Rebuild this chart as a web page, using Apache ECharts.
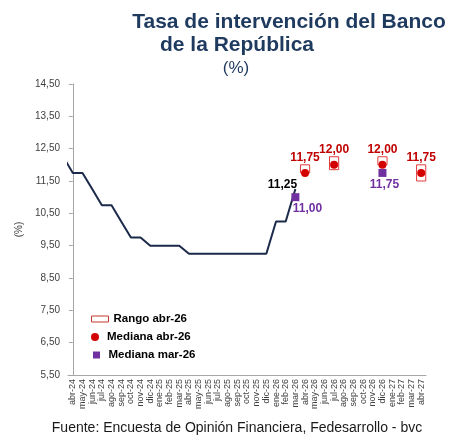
<!DOCTYPE html>
<html>
<head>
<meta charset="utf-8">
<script src="https://cdn.jsdelivr.net/npm/echarts@6/dist/echarts.min.js"></script>
<style>
  html, body { margin: 0; padding: 0; background: #fff; }
  #chart { width: 468px; height: 441px; }
</style>
</head>
<body>
<div id="chart"></div>
<script>
// meses del eje
const months = ['abr-24','may-24','jun-24','jul-24','ago-24','sep-24','oct-24','nov-24','dic-24',
  'ene-25','feb-25','mar-25','abr-25','may-25','jun-25','jul-25','ago-25','sep-25','oct-25','nov-25','dic-25',
  'ene-26','feb-26','mar-26','abr-26','may-26','jun-26','jul-26','ago-26','sep-26','oct-26','nov-26','dic-26',
  'ene-27','feb-27','mar-27','abr-27'];

// tasa observada, el primer valor es mar-24 (queda fuera del eje, se recorta)
const rateStart = -1;
const rateValues = [12.25, 11.75, 11.75, 11.25, 10.75, 10.75, 10.25, 9.75, 9.75, 9.50, 9.50, 9.50, 9.50,
  9.25, 9.25, 9.25, 9.25, 9.25, 9.25, 9.25, 9.25, 9.25, 10.25, 10.25, 11.25];

// encuesta abr-26
const rangeMonths = ['abr-26', 'jul-26', 'dic-26', 'abr-27'];
const rangeLow = [11.75, 11.85, 12.00, 11.50];
const rangeHigh = [12.00, 12.25, 12.25, 12.00];
const medianAbr = [11.75, 12.00, 12.00, 11.75];

// encuesta mar-26
const medianMarMonths = ['mar-26', 'dic-26'];
const medianMar = [11.00, 11.75];

const yTicks = { min: 5.5, max: 14.5, step: 1 };

const FONT = '"Liberation Sans", Arial, sans-serif';
const fmt = v => v.toFixed(2).replace('.', ',');

const chart = echarts.init(document.getElementById('chart'));

const lastRate = rateValues.length - 1;

const option = {
  backgroundColor: '#fff',
  animation: false,
  textStyle: { fontFamily: FONT },
  graphic: [
    { type: 'text', style: { x: 289, y: 22, text: 'Tasa de intervención del Banco', font: 'bold 21px ' + FONT, fill: '#1f3a5f', textAlign: 'center', textVerticalAlign: 'middle', align: 'center', verticalAlign: 'middle' } },
    { type: 'text', style: { x: 237, y: 45, text: 'de la República', font: 'bold 21px ' + FONT, fill: '#1f3a5f', textAlign: 'center', textVerticalAlign: 'middle', align: 'center', verticalAlign: 'middle' } },
    { type: 'text', style: { x: 236, y: 68, text: '(%)', font: '17px ' + FONT, fill: '#1f3a5f', textAlign: 'center', textVerticalAlign: 'middle', align: 'center', verticalAlign: 'middle' } },
    { type: 'text', style: { x: 237, y: 428, text: 'Fuente: Encuesta de Opinión Financiera, Fedesarrollo - bvc', font: '14px ' + FONT, fill: '#1a1a1a', textAlign: 'center', textVerticalAlign: 'middle', align: 'center', verticalAlign: 'middle' } }
  ],
  legend: [
    {
      left: 86, top: 308, itemWidth: 17, itemHeight: 6,
      textStyle: { fontSize: 11.5, fontWeight: 'bold', color: '#000', fontFamily: FONT },
      data: [{ name: 'Rango abr-26', icon: 'rect', itemStyle: { color: '#fff', borderColor: '#c0392b', borderWidth: 1 } }]
    },
    {
      left: 86, top: 326, itemWidth: 14, itemHeight: 8,
      textStyle: { fontSize: 11.5, fontWeight: 'bold', color: '#000', fontFamily: FONT },
      data: [{ name: 'Mediana abr-26', icon: 'circle' }]
    },
    {
      left: 88, top: 344, itemWidth: 14, itemHeight: 7,
      textStyle: { fontSize: 11.5, fontWeight: 'bold', color: '#000', fontFamily: FONT },
      data: [{ name: 'Mediana mar-26', icon: 'path://M0,0L10,0L10,10L0,10Z' }]
    }
  ],
  grid: { left: 68, right: 42, top: 84, bottom: 66, containLabel: false, outerBoundsMode: 'none' },
  xAxis: [
    {
      type: 'category', data: months, boundaryGap: true,
      axisLine: { lineStyle: { color: '#a6a6a6', width: 1 } },
      axisTick: { show: false },
      axisLabel: { rotate: 90, interval: 0, fontSize: 9, color: '#404040', margin: 4, fontFamily: FONT },
      splitLine: { show: false }
    },
    { type: 'value', min: -0.5, max: months.length - 0.5, show: false }
  ],
  yAxis: {
    type: 'value', min: yTicks.min, max: yTicks.max, interval: yTicks.step,
    name: '(%)', nameLocation: 'middle', nameGap: 35, nameRotate: 90,
    nameTextStyle: { fontSize: 10, color: '#404040', fontFamily: FONT },
    axisLine: { show: true, lineStyle: { color: '#a6a6a6', width: 1 } },
    axisTick: { show: true, length: 4, lineStyle: { color: '#a6a6a6' } },
    axisLabel: { fontSize: 10, color: '#404040', margin: 8, formatter: v => fmt(v), fontFamily: FONT },
    splitLine: { show: false }
  },
  series: [
    {
      name: 'Tasa', type: 'line', xAxisIndex: 1, z: 2,
      showSymbol: true, symbol: 'circle', symbolSize: 0, clip: true,
      lineStyle: { color: '#1b2a4a', width: 2 },
      itemStyle: { color: '#1b2a4a' },
      data: rateValues.map((v, i) => i === lastRate ? {
        value: [i + rateStart, v],
        label: { show: true, position: 'top', distance: 5, offset: [-13, 7], formatter: p => fmt(p.value[1]), color: '#000', fontWeight: 'bold', fontSize: 12, fontFamily: FONT }
      } : [i + rateStart, v])
    },
    {
      name: 'Rango abr-26', type: 'custom', z: 3,
      itemStyle: { color: '#fff', borderColor: '#c0392b' },
      encode: { x: 0, y: [1, 2] },
      data: rangeMonths.map((m, i) => [months.indexOf(m), rangeLow[i], rangeHigh[i], medianAbr[i]]),
      renderItem: (params, api) => {
        const cat = api.value(0);
        const top = api.coord([cat, api.value(2)]);
        const bottom = api.coord([cat, api.value(1)]);
        const w = api.size([1, 0])[0] * 0.95;
        return {
          type: 'group',
          children: [
            { type: 'rect', shape: { x: top[0] - w / 2, y: top[1], width: w, height: bottom[1] - top[1] },
              style: { fill: '#fff', stroke: '#e23b3b', lineWidth: 1 } },
            { type: 'text', style: { x: top[0], y: top[1] - 1, text: fmt(api.value(3)), fill: '#c00000',
              font: 'bold 12px ' + FONT, textAlign: 'center', textVerticalAlign: 'bottom', align: 'center', verticalAlign: 'bottom' } }
          ]
        };
      }
    },
    {
      name: 'Mediana abr-26', type: 'scatter', z: 4,
      symbol: 'circle', symbolSize: 8,
      itemStyle: { color: '#d40000', opacity: 1 },
      data: rangeMonths.map((m, i) => [m, medianAbr[i]])
    },
    {
      name: 'Mediana mar-26', type: 'scatter', z: 4,
      symbol: 'rect', symbolSize: 8,
      itemStyle: { color: '#7030a0', opacity: 1 },
      label: { show: true, position: 'bottom', distance: 2, color: '#7030a0', opacity: 1, fontWeight: 'bold', fontSize: 12, fontFamily: FONT, formatter: p => fmt(p.value[1]) },
      data: medianMarMonths.map((m, i) => ({ value: [m, medianMar[i]], label: { offset: i === 0 ? [12, 0] : [2, 0] } }))
    }
  ]
};

chart.setOption(option);
window.addEventListener('resize', () => chart.resize());
</script>
</body>
</html>
